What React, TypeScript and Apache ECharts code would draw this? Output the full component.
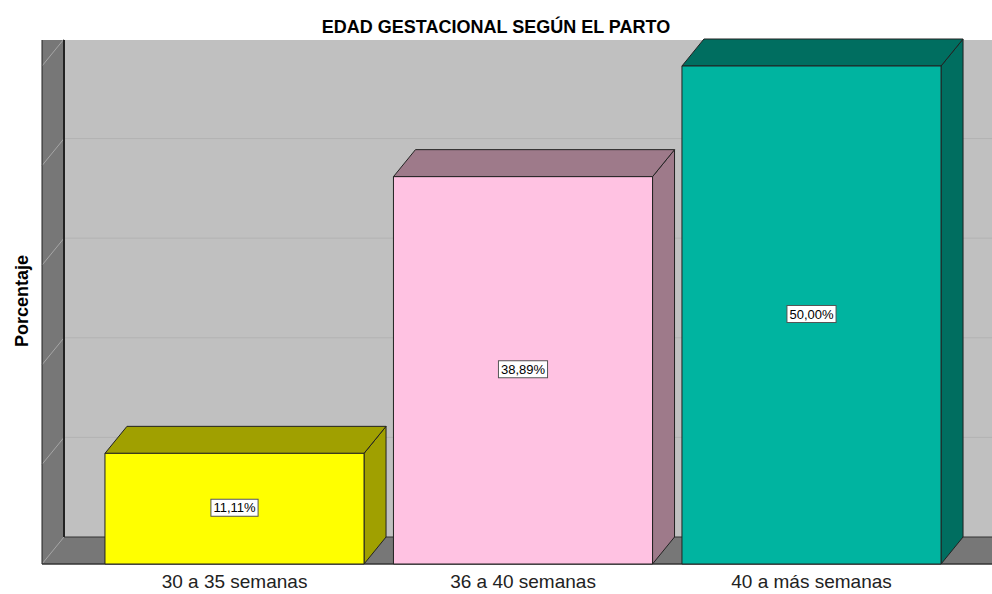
import React, { useEffect, useRef } from "react";
import * as echarts from "echarts";

const TITLE = "EDAD GESTACIONAL SEGÚN EL PARTO";
const Y_NAME = "Porcentaje";
const CATEGORIES = ["30 a 35 semanas", "36 a 40 semanas", "40 a más semanas"];
const VALUES = [11.11, 38.89, 50.0];
const FRONT_COLORS = ["#ffff00", "#ffc2e2", "#00b4a0"];
const SHADE_COLORS = ["#a0a000", "#9e7a8a", "#006e60"];
const Y_MIN = 0;
const Y_MAX = 50;
const GRID_VALUES = [10, 20, 30, 40, 50];

const DX = 22;
const DY = -27;
const WALL_GAP = 48.25;
const BAR_RATIO = 0.898;
const FONT = "Liberation Sans, Arial, sans-serif";

const fmt = (v: number) => v.toFixed(2).replace(".", ",") + "%";

export default function App() {
  const ref = useRef<HTMLDivElement>(null);

  useEffect(() => {
    document.body.style.margin = "0";
    if (!ref.current) return;
    const chart = echarts.init(ref.current, undefined, { renderer: "svg" });

    const wallItem = (params: any, api: any) => {
      const cs = params.coordSys;
      const W = api.getWidth();
      const wx = cs.x - WALL_GAP;
      const yBase = api.coord([0, Y_MIN])[1];
      const yTop = api.coord([0, Y_MAX])[1];
      const topClip = yTop + DY + 1;
      const children: any[] = [];
      children.push({
        type: "rect",
        shape: { x: wx + DX, y: topClip, width: W - wx - DX, height: yBase + DY - topClip },
        style: { fill: "#c0c0c0" },
      });
      GRID_VALUES.forEach((v) => {
        const y = api.coord([0, v])[1] + DY;
        if (v < Y_MAX) {
          children.push({
            type: "line",
            shape: { x1: wx + DX, y1: y, x2: W, y2: y },
            style: { stroke: "#b2b2b2", lineWidth: 1 },
          });
        }
      });
      children.push({
        type: "rect",
        shape: { x: wx, y: topClip, width: DX, height: yBase - topClip },
        style: { fill: "#777777" },
      });
      GRID_VALUES.forEach((v) => {
        const y = api.coord([0, v])[1];
        children.push({
          type: "line",
          shape: { x1: wx, y1: y, x2: wx + DX, y2: y + DY },
          style: { stroke: "#a6a6a6", lineWidth: 1 },
        });
      });
      children.push({
        type: "polygon",
        shape: {
          points: [
            [wx, yBase],
            [wx + DX, yBase + DY],
            [W + 2, yBase + DY],
            [W + 2, yBase],
          ],
        },
        style: { fill: "#777777" },
      });
      children.push({
        type: "line",
        shape: { x1: wx, y1: yBase, x2: wx + DX, y2: yBase + DY },
        style: { stroke: "#a6a6a6", lineWidth: 1 },
      });
      children.push({
        type: "line",
        shape: { x1: wx + DX, y1: yBase + DY, x2: W, y2: yBase + DY },
        style: { stroke: "#333333", lineWidth: 1 },
      });
      children.push({
        type: "line",
        shape: { x1: wx, y1: yBase, x2: W, y2: yBase },
        style: { stroke: "#333333", lineWidth: 1.5 },
      });
      children.push({
        type: "line",
        shape: { x1: wx + DX, y1: topClip, x2: wx + DX, y2: yBase + DY },
        style: { stroke: "#222222", lineWidth: 2 },
      });
      children.push({
        type: "line",
        shape: { x1: wx, y1: topClip, x2: wx, y2: yBase },
        style: { stroke: "#222222", lineWidth: 1 },
      });
      return { type: "group", children };
    };

    const barItem = (params: any, api: any) => {
      const idx = api.value(0);
      const val = api.value(1);
      const top = api.coord([idx, val]);
      const bot = api.coord([idx, Y_MIN]);
      const w = api.size([1, 0])[0] * BAR_RATIO;
      const x0 = top[0] - w / 2;
      const x1 = top[0] + w / 2;
      const yT = top[1];
      const yB = bot[1];
      const i = params.dataIndex;
      const stroke = "#222222";
      return {
        type: "group",
        children: [
          {
            type: "polygon",
            shape: { points: [[x1, yT], [x1 + DX, yT + DY], [x1 + DX, yB + DY], [x1, yB]] },
            style: { fill: SHADE_COLORS[i], stroke, lineWidth: 1 },
          },
          {
            type: "polygon",
            shape: { points: [[x0, yT], [x1, yT], [x1 + DX, yT + DY], [x0 + DX, yT + DY]] },
            style: { fill: SHADE_COLORS[i], stroke, lineWidth: 1 },
          },
          {
            type: "rect",
            shape: { x: x0, y: yT, width: w, height: yB - yT },
            style: { fill: FRONT_COLORS[i], stroke, lineWidth: 1 },
          },
          {
            type: "text",
            x: top[0],
            y: (yT + yB) / 2 - 1,
            style: {
              text: fmt(val),
              align: "center",
              verticalAlign: "middle",
              fontSize: 13,
              fontFamily: FONT,
              fill: "#000000",
              backgroundColor: "#ffffff",
              borderColor: "#555555",
              borderWidth: 1,
              padding: [2, 2, 1, 2],
            },
          },
        ],
      };
    };

    chart.setOption({
      animation: false,
      title: {
        text: TITLE,
        left: "center",
        top: 13,
        textStyle: {
          fontSize: 18,
          fontWeight: "bold",
          color: "#000000",
          fontFamily: FONT,
        },
      },
      grid: { left: 90.25, right: 36.25, top: 66, bottom: 30 },
      xAxis: {
        type: "category",
        data: CATEGORIES,
        axisLine: { show: false },
        axisTick: { show: false },
        splitLine: { show: false },
        axisLabel: {
          margin: 8,
          fontSize: 19,
          color: "#222222",
          fontFamily: FONT,
        },
      },
      yAxis: {
        type: "value",
        min: Y_MIN,
        max: Y_MAX,
        interval: 10,
        show: false,
      },
      graphic: [
        {
          type: "text",
          x: 22,
          y: 301,
          rotation: Math.PI / 2,
          style: {
            text: Y_NAME,
            align: "center",
            verticalAlign: "middle",
            fontSize: 18,
            fontWeight: "bold",
            fill: "#000000",
            fontFamily: FONT,
          },
        },
      ],
      series: [
        {
          type: "custom",
          renderItem: wallItem,
          data: [[0, 0]],
          encode: { x: 0, y: 1 },
          clip: false,
          silent: true,
          z: 1,
        },
        {
          type: "custom",
          renderItem: barItem,
          data: CATEGORIES.map((_, i) => [i, VALUES[i]]),
          encode: { x: 0, y: 1 },
          clip: false,
          z: 2,
        },
      ],
    });

    return () => chart.dispose();
  }, []);

  return <div ref={ref} style={{ width: 992, height: 594 }} />;
}
